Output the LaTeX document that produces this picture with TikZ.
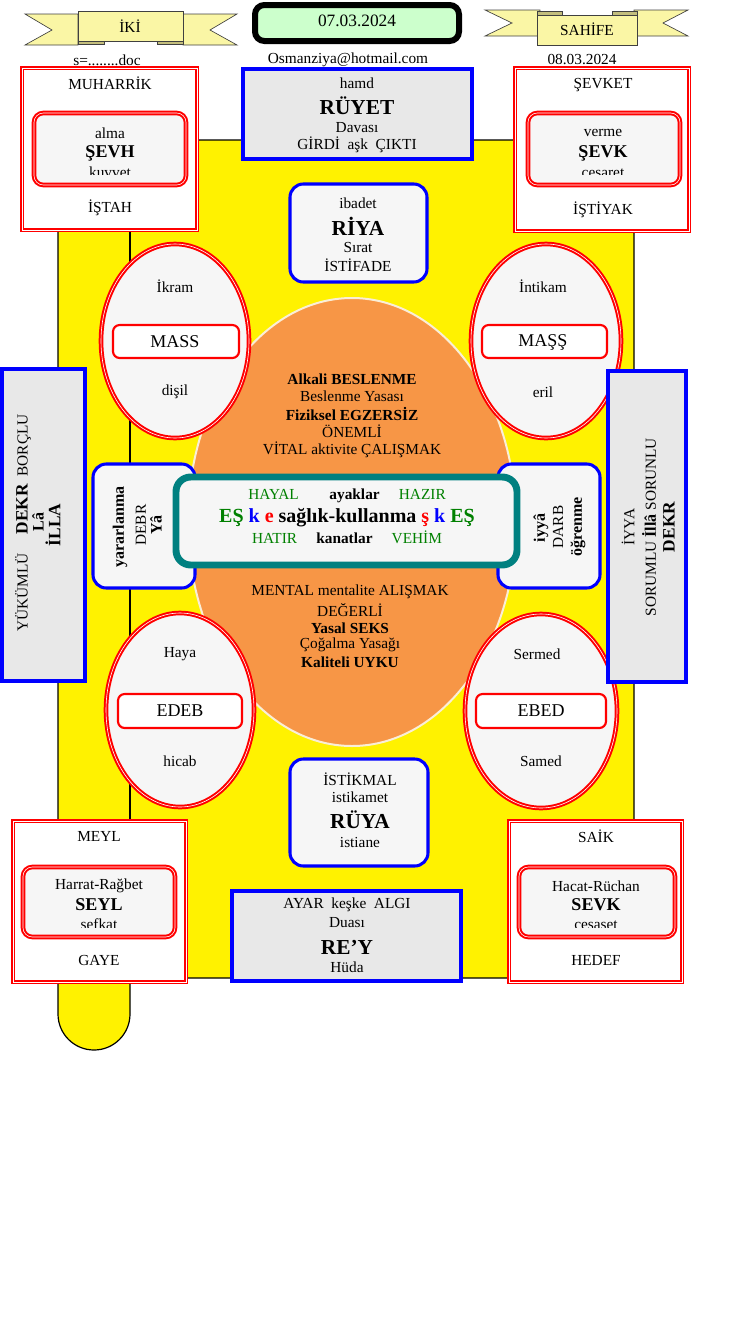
\documentclass[tikz,border=0pt]{standalone}
\usepackage{fontspec}
\setmainfont{Liberation Serif}
\definecolor{ribbon}{RGB}{250,246,165}
\definecolor{ribbonfold}{RGB}{195,190,125}
\definecolor{datefill}{RGB}{204,255,204}
\definecolor{boxgray}{RGB}{232,232,232}
\definecolor{boxlight}{RGB}{246,246,246}
\definecolor{orangefill}{RGB}{247,150,70}
\definecolor{orangeedge}{RGB}{250,238,215}
\definecolor{eqgreen}{RGB}{0,128,0}
\definecolor{tealline}{RGB}{0,128,128}
\begin{document}
\begin{tikzpicture}[x=0.75pt,y=-0.75pt,
    redbox/.style={draw=red,line width=1.5pt,double=white,double distance=0.45pt},
    redinner/.style={redbox,fill=boxlight,rounded corners=7pt},
    redlabel/.style={draw=red,line width=1.6pt,fill=white,rounded corners=5pt},
    bluebox/.style={draw=blue,line width=2.3pt},
    ribbonpart/.style={fill=ribbon,draw=black!75,line width=0.5pt},
    foldpart/.style={fill=ribbonfold,draw=black!75,line width=0.5pt},
    txt/.style={font=\fontsize{11.5}{13.5}\selectfont,inner sep=0pt},
    cuttxt/.style={txt,anchor=base},
    boldtxt/.style={font=\fontsize{11.5}{13.5}\selectfont\bfseries,inner sep=0pt},
    bigtxt/.style={font=\fontsize{16}{18}\selectfont\bfseries,inner sep=0pt},
    midtxt/.style={font=\fontsize{13.5}{15}\selectfont\bfseries,inner sep=0pt},
    labeltxt/.style={font=\fontsize{13.5}{15}\selectfont,inner sep=0pt},
    eqtxt/.style={font=\fontsize{15}{17}\selectfont\bfseries,inner sep=0pt}]
\useasboundingbox (0,0) rectangle (747,1328);
% yellow ground with the leg
\filldraw[fill=yellow,draw=black,line width=0.9pt] (58,140) -- (634,140) -- (634,978) -- (130,978) -- (130,1014)
    arc[start angle=0,end angle=180,radius=36] -- cycle;
\draw[line width=0.9pt] (130,140) -- (130,978);
% ribbons and date
\draw[ribbonpart] (25,14) -- (78,14) -- (78,45) -- (25,45) -- (52,30) -- cycle;
\draw[ribbonpart] (183,14) -- (237,14) -- (210,30) -- (237,45) -- (183,45) -- cycle;
\draw[foldpart] (78,40) rectangle (104,44);
\draw[foldpart] (157,40) rectangle (183,44);
\draw[ribbonpart] (78,11) rectangle (183,41);
\node[txt] (iki) at (130,26) {İKİ};
\draw[ribbonpart] (485,10) -- (540,10) -- (540,36) -- (485,36) -- (512,23) -- cycle;
\draw[ribbonpart] (634,10) -- (688,10) -- (663,23) -- (688,36) -- (634,36) -- cycle;
\draw[foldpart] (537,11) rectangle (562,15);
\draw[foldpart] (612,11) rectangle (637,15);
\draw[ribbonpart] (537,15) rectangle (637,45);
\node[txt] (sahife) at (587,29) {SAHİFE};
\draw[fill=datefill,line width=4.5pt,rounded corners=7pt] (255,5) rectangle (459,41);
\node[txt,font=\fontsize{13}{15}\selectfont] (tarih) at (357,21) {07.03.2024};
\node[txt] (dosya) at (107,60) {s=........doc};
\node[txt] (eposta) at (348,60) {Osmanziya@hotmail.com};
\node[txt] (tarih2) at (582,60) {08.03.2024};
% orange centre
\draw[fill=orangefill,draw=orangeedge,line width=1.5pt] (352,522) ellipse[x radius=164,y radius=224];
\node[boldtxt] (alkali) at (352,379) {Alkali BESLENME};
\node[txt] (yasa1) at (352,396) {Beslenme Yasası};
\node[boldtxt] (fiziksel) at (352,414) {Fiziksel EGZERSİZ};
\node[txt] (onemli) at (352,431) {ÖNEMLİ};
\node[txt] (vital) at (352,450) {VİTAL aktivite ÇALIŞMAK};
\node[txt] (mental) at (350,592) {MENTAL mentalite ALIŞMAK};
\node[txt] (degerli) at (350,610) {DEĞERLİ};
\node[boldtxt] (seks) at (350,628) {Yasal SEKS};
\node[txt] (yasa2) at (350,645) {Çoğalma Yasağı};
\node[boldtxt] (uyku) at (350,662) {Kaliteli UYKU};
% corner boxes, top
\draw[redbox,fill=white] (22,68) rectangle (197,230);
\node[txt] (muharrik) at (110,83) {MUHARRİK};
\node[txt] (istah) at (110,208) {İŞTAH};
\draw[redinner] (34,113) rectangle (186,185);
\node[txt] (alma) at (110,133) {alma};
\node[midtxt] (sevh) at (110,153) {ŞEVH};
\begin{scope}
  \clip (34,113) rectangle (186,174.5);
  \node[cuttxt] (kuvvet) at (110,177) {kuvvet};
\end{scope}
\draw[redbox,fill=white] (515,68) rectangle (689,231);
\node[txt] (sevket) at (603,85) {ŞEVKET};
\node[txt] (istiyak) at (603,210) {İŞTİYAK};
\draw[redinner] (528,113) rectangle (680,185);
\node[txt] (verme) at (603,133) {verme};
\node[midtxt] (sevk) at (603,153) {ŞEVK};
\begin{scope}
  \clip (528,113) rectangle (680,174.5);
  \node[cuttxt] (cesaret) at (603,177) {cesaret};
\end{scope}
% top centre boxes
\draw[bluebox,fill=boxgray] (243,69) rectangle (472,159);
\node[txt] (hamd) at (357,83) {hamd};
\node[bigtxt] (ruyet) at (357,106) {RÜYET};
\node[txt] (davasi) at (357,128) {Davası};
\node[txt] (girdi) at (357,145) {GİRDİ\ \ aşk\ \ ÇIKTI};
\draw[bluebox,fill=boxlight,rounded corners=10pt] (290,184) rectangle (427,282);
\node[txt] (ibadet) at (358,203) {ibadet};
\node[bigtxt] (riya) at (358,226) {RİYA};
\node[txt] (sirat) at (358,247) {Sırat};
\node[txt] (istifade) at (358,265) {İSTİFADE};
% upper ellipses
\draw[redbox,fill=boxlight] (175,341) ellipse[x radius=74,y radius=97];
\node[txt] (ikram) at (175,286) {İkram};
\draw[redlabel] (113,325) rectangle (239,358);
\node[labeltxt] (mass) at (175,342) {MASS};
\node[txt] (disil) at (175,392) {dişil};
\draw[redbox,fill=boxlight] (546,341) ellipse[x radius=75,y radius=97];
\node[txt] (intikam) at (543,286) {İntikam};
\draw[redlabel] (482,325) rectangle (607,358);
\node[labeltxt] (massh) at (543,342) {MAŞŞ};
\node[txt] (eril) at (543,392) {eril};
% lower ellipses
\draw[redbox,fill=boxlight] (180,710) ellipse[x radius=74,y radius=97];
\node[txt] (haya) at (180,654) {Haya};
\draw[redlabel] (118,694) rectangle (242,728);
\node[labeltxt] (edeb) at (180,711) {EDEB};
\node[txt] (hicab) at (180,761) {hicab};
\draw[redbox,fill=boxlight] (541,711) ellipse[x radius=76,y radius=97];
\node[txt] (sermed) at (537,654) {Sermed};
\draw[redlabel] (476,694) rectangle (606,728);
\node[labeltxt] (ebed) at (541,711) {EBED};
\node[txt] (samed) at (541,761) {Samed};
% side boxes
\draw[bluebox,line width=2.6pt,fill=boxgray] (2,369) rectangle (85,681);
\node[txt,rotate=90] (yukumlu) at (23,523) {YÜKÜMLÜ\quad\ {\fontsize{13}{15}\selectfont\bfseries DEKR}\ \ BORÇLU};
\node[txt,rotate=90,font=\fontsize{12}{14}\selectfont\bfseries] (la) at (38,522) {Lâ};
\node[txt,rotate=90,font=\fontsize{13}{15}\selectfont\bfseries] (illa) at (53,525) {İLLA};
\draw[bluebox,line width=2.6pt,fill=boxgray] (608,371) rectangle (686,682);
\node[txt,rotate=90] (iyya) at (628,527) {İYYA};
\node[txt,rotate=90] (sorumlu) at (649,527) {SORUMLU {\fontsize{12}{14}\selectfont\bfseries İllâ} SORUNLU};
\node[txt,rotate=90,font=\fontsize{13}{15}\selectfont\bfseries] (dekr) at (669,527) {DEKR};
\draw[bluebox,fill=boxlight,rounded corners=10pt] (93,464) rectangle (195,588);
\node[txt,rotate=90,font=\fontsize{12}{14}\selectfont\bfseries] (yararlanma) at (120,527) {yararlanma};
\node[txt,rotate=90] (debr) at (141,525) {DEBR};
\node[txt,rotate=90,font=\fontsize{12}{14}\selectfont\bfseries] (ya) at (156,525) {Yâ};
\draw[bluebox,fill=boxlight,rounded corners=10pt] (498,464) rectangle (600,588);
\node[txt,rotate=90,font=\fontsize{12}{14}\selectfont\bfseries] (iyyaa) at (541,528) {iyyâ};
\node[txt,rotate=90] (darb) at (558,527) {DARB};
\node[txt,rotate=90,font=\fontsize{12}{14}\selectfont\bfseries] (ogrenme) at (578,527) {öğrenme};
% centre teal box
\draw[draw=tealline,line width=5.2pt,fill=boxlight,rounded corners=11pt] (176,477) rectangle (517,565);
\node[txt] (hayal) at (347,496) {\textcolor{eqgreen}{HAYAL}\qquad\textbf{ayaklar}\quad\ \textcolor{eqgreen}{HAZIR}};
\node[eqtxt] (es) at (347,518) {\textcolor{eqgreen}{EŞ} \textcolor{blue}{k} \textcolor{red}{e} sağlık-kullanma \textcolor{red}{ş} \textcolor{blue}{k} \textcolor{eqgreen}{EŞ}};
\node[txt] (hatir) at (347,537) {\textcolor{eqgreen}{HATIR}\quad\ \textbf{kanatlar}\quad\ \textcolor{eqgreen}{VEHİM}};
% lower centre box
\draw[bluebox,fill=boxlight,rounded corners=10pt] (290,759) rectangle (428,866);
\node[txt] (istikmal) at (360,779) {İSTİKMAL};
\node[txt] (istikamet) at (360,797) {istikamet};
\node[bigtxt] (ruya) at (360,820) {RÜYA};
\node[txt] (istiane) at (360,842) {istiane};
% corner boxes, bottom
\draw[redbox,fill=white] (13,821) rectangle (186,982);
\node[txt] (meyl) at (99,836) {MEYL};
\node[txt] (gaye) at (99,960) {GAYE};
\draw[redinner] (23,867) rectangle (175,937);
\node[txt] (harrat) at (99,886) {Harrat-Rağbet};
\node[midtxt] (seyl) at (99,905) {SEYL};
\begin{scope}
  \clip (23,867) rectangle (175,927);
  \node[cuttxt] (sefkat) at (99,929.5) {sefkat};
\end{scope}
\draw[redbox,fill=white] (509,821) rectangle (682,982);
\node[txt] (saik) at (596,836) {SAİK};
\node[txt] (hedef) at (596,960) {HEDEF};
\draw[redinner] (519,867) rectangle (675,937);
\node[txt] (hacat) at (596,886) {Hacat-Rüchan};
\node[midtxt] (sevk2) at (596,905) {SEVK};
\begin{scope}
  \clip (519,867) rectangle (675,927);
  \node[cuttxt] (cesaset) at (596,929.5) {cesaset};
\end{scope}
\draw[bluebox,fill=boxgray] (232,891) rectangle (461,981);
\node[txt] (ayar) at (347,905) {AYAR\ \ keşke\ \ ALGI};
\node[txt] (duasi) at (347,923) {Duası};
\node[bigtxt] (rey) at (347,947) {RE’Y};
\node[txt] (huda) at (347,967) {Hüda};
\end{tikzpicture}
\end{document}
